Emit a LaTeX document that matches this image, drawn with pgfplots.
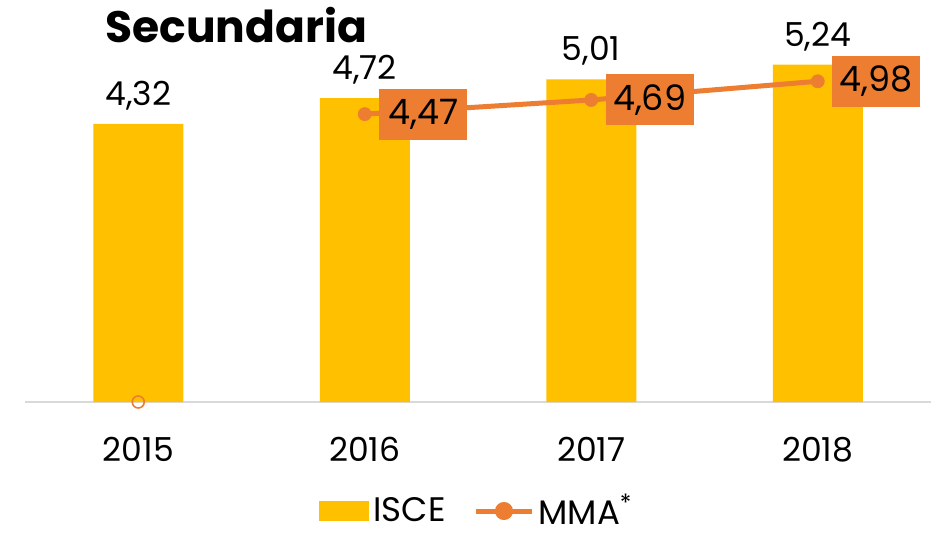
\documentclass[border=0pt]{standalone}
\usepackage{fontspec}
\setmainfont{Poppins}
\usepackage{pgfplots}
\pgfplotsset{compat=1.18}
\definecolor{isce}{HTML}{FFC000}
\definecolor{mma}{HTML}{ED7D31}
\definecolor{axgray}{HTML}{D9D9D9}
\begin{document}
\begin{tikzpicture}
\useasboundingbox (-12.5pt,-66.5pt) rectangle (455pt,201pt);
\begin{axis}[
  at={(0pt,0pt)}, anchor=south west,
  scale only axis, width=453pt, height=193.2pt,
  xmin=-0.5, xmax=3.5, ymin=0, ymax=6,
  clip=false,
  hide y axis,
  axis x line*=bottom,
  x axis line style={axgray, line width=1pt},
  xtick={0,1,2,3}, xticklabels={2015,2016,2017,2018},
  xtick style={draw=none},
  xticklabel style={anchor=base, inner sep=0pt, yshift=-29.5pt, font=\fontsize{16.5}{18}\selectfont},
  /pgf/number format/.cd, fixed, fixed zerofill, precision=2, use comma, assume math mode=true,
  /pgfplots/.cd,
  legend columns=2,
  legend style={draw=none, fill=none, at={(rel axis cs:0.5,0)}, anchor=center, yshift=-54.5pt,
    inner sep=0pt, nodes={inner ysep=0pt, inner xsep=2pt},
    font=\fontsize{17}{19}\selectfont, /tikz/every even column/.append style={column sep=12pt}},
]
\addplot[ybar, bar width=45pt, bar shift=0pt, fill=isce, draw=none,
  nodes near coords, nodes near coords align={vertical},
  every node near coord/.append style={text=black, inner sep=0pt, text depth=0pt, yshift=9pt, font=\fontsize{16.5}{18}\selectfont},
  legend image code/.code={\fill[isce] (0pt,-5pt) rectangle (25pt,5pt);}]
  coordinates {(0,4.32) (1,4.72) (2,5.01) (3,5.24)};
\addlegendentry{ISCE}
\addplot[mma, line width=2.5pt, mark=*, mark size=3.25pt, mark options={solid, fill=mma, draw=mma, line width=0.4pt},
  nodes near coords, nodes near coords align={horizontal},
  every node near coord/.append style={fill=mma, text=black, inner sep=0pt, xshift=7pt, minimum width=44pt, minimum height=25.5pt, font=\fontsize{17.5}{20}\selectfont},
  legend image code/.code={\draw[mma, line width=2.5pt] (0pt,0pt) -- (28pt,0pt); \fill[mma] (14pt,0pt) circle (3.25pt);}]
  coordinates {(1,4.47) (2,4.69) (3,4.98)};
\addlegendentry{MMA\textsuperscript{*}}
\addplot[forget plot, only marks, mark=o, mma, mark size=3pt, mark options={fill=white, line width=0.8pt}]
  coordinates {(0,0)};
\end{axis}
\node[anchor=base west, inner sep=0pt, font=\bfseries\fontsize{22}{26}\selectfont] at (40pt,179.5pt) {Secundaria};
\end{tikzpicture}
\end{document}
